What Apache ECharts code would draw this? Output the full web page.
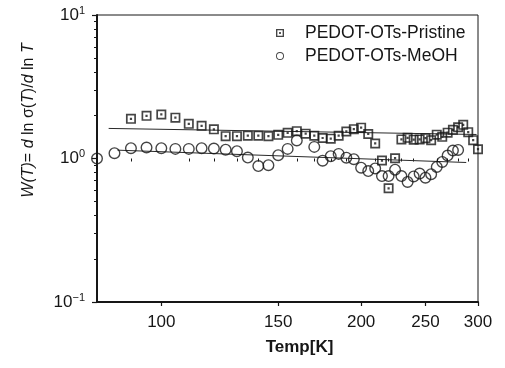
<!DOCTYPE html>
<html>
<head>
<meta charset="utf-8">
<script src="https://cdn.jsdelivr.net/npm/echarts@6/dist/echarts.min.js"></script>
<style>html,body{margin:0;padding:0;background:#fff;}#c{width:505px;height:368px;}</style>
</head>
<body>
<div id="c"></div>
<script>
// ---- data ----
const T_pristine = [90,95,100,105,110,115,120,125,130,135,140,145,150,155,160,165,170,175,180,185,190,195,200,205,210,215,220,225,230,235,240,245,250,255,260,265,270,275,280,285,290,295,300];
const W_pristine = [1.889,1.983,2.028,1.926,1.744,1.689,1.596,1.431,1.431,1.443,1.443,1.431,1.461,1.509,1.551,1.490,1.443,1.390,1.375,1.443,1.543,1.601,1.640,1.482,1.273,0.968,0.620,1.005,1.359,1.393,1.353,1.359,1.386,1.342,1.466,1.415,1.514,1.584,1.653,1.716,1.526,1.342,1.161];
const T_meoh = [80,85,90,95,100,105,110,115,120,125,130,135,140,145,150,155,160,170,175,180,185,190,195,200,205,210,215,220,225,230,235,240,245,250,255,260,265,270,275,280];
const W_meoh = [1.000,1.089,1.180,1.193,1.180,1.167,1.167,1.180,1.174,1.152,1.124,1.016,0.886,0.898,1.054,1.167,1.335,1.205,0.965,1.038,1.077,1.013,0.989,0.863,0.818,0.852,0.755,0.755,0.835,0.755,0.687,0.750,0.786,0.735,0.777,0.874,0.947,1.049,1.137,1.148];
const fitPristineT = [83.3, 298.5];
const fitPristineW = [1.62, 1.47];
const fitMeohT = [85.9, 288];
const fitMeohW = [1.143, 0.938];
const xTickLabels = [100, 150, 200, 250, 300];
const xMinorTicks = [80, 90, 110, 120, 130, 140, 160, 170, 180, 190, 210, 220, 230, 240, 260, 270, 280, 290];
const yTickLabels = [0.1, 1, 10];
const yMinorTicks = [0.2, 0.3, 0.4, 0.5, 0.6, 0.7, 0.8, 0.9, 2, 3, 4, 5, 6, 7, 8, 9];
const xRange = [80, 300];
const seriesNames = ['PEDOT-OTs-Pristine', 'PEDOT-OTs-MeOH'];

// ---- build ----
const L = Math.log10;
const pairs = (xs, ys) => xs.map((x, i) => [L(x), L(ys[i])]);
const INK = '#161616';
const FONT = '"Liberation Sans", Arial, sans-serif';
const squareDot = 'path://M0,0H10V10H0Z M1.7,1.7V8.3H8.3V1.7Z M3.9,3.9H6.1V6.1H3.9Z';
const ring = 'path://M10,0A10,10 0 1,1 10,20A10,10 0 1,1 10,0Z M10,2.3A7.7,7.7 0 1,0 10,17.7A7.7,7.7 0 1,0 10,2.3Z';
const xMin = L(xRange[0]), xMax = L(xRange[1]);
const yMin = L(yTickLabels[0]), yMax = L(yTickLabels[yTickLabels.length - 1]);

const supText = v => {
  const e = Math.round(v);
  return '{b|10}{s|' + (e < 0 ? '\u2212' + (-e) : e) + '}';
};

const chart = echarts.init(document.getElementById('c'), null, {renderer: 'canvas'});
chart.setOption({
  animation: false,
  backgroundColor: '#fff',
  textStyle: {fontFamily: FONT, color: INK},
  grid: {left: 97, right: 27, top: 15, bottom: 66, show: true, borderColor: INK, borderWidth: 1, backgroundColor: 'transparent'},
  legend: {
    data: seriesNames,
    orient: 'vertical', left: 276, top: 24, padding: 0,
    itemWidth: 40, itemHeight: 8, itemGap: 5,
    textStyle: {fontFamily: FONT, fontSize: 17.5, lineHeight: 17, color: INK},
    inactiveColor: INK, selectedMode: false
  },
  xAxis: [{
    type: 'value', min: xMin, max: xMax,
    splitLine: {show: false},
    axisLine: {show: true, onZero: false, lineStyle: {color: INK, width: 2}},
    axisTick: {show: true, length: 4, lineStyle: {color: INK, width: 1.2}, customValues: xTickLabels.map(L)},
    axisLabel: {show: true, margin: 12, fontSize: 17, color: INK, fontFamily: FONT,
      customValues: xTickLabels.map(L), formatter: v => String(Math.round(Math.pow(10, v)))},
    name: 'Temp[K]', nameLocation: 'middle', nameGap: 37,
    nameTextStyle: {fontSize: 17, fontWeight: 'bold', color: INK, fontFamily: FONT, padding: [0, 0, 0, 24]}
  }, {
    type: 'value', min: xMin, max: xMax, gridIndex: 0, position: 'bottom',
    splitLine: {show: false},
    axisLine: {show: false},
    axisTick: {show: true, length: 3, lineStyle: {color: INK, width: 1}, customValues: xMinorTicks.map(L)},
    axisLabel: {show: false}
  }],
  yAxis: [{
    type: 'value', min: yMin, max: yMax, interval: 1,
    splitLine: {show: false},
    axisLine: {show: true, onZero: false, lineStyle: {color: INK, width: 2}},
    axisTick: {show: true, length: 5, lineStyle: {color: INK, width: 1.2}},
    axisLabel: {show: true, margin: 12, formatter: supText,
      rich: {
        b: {fontSize: 17, lineHeight: 20, fontFamily: FONT, color: INK},
        s: {fontSize: 11, lineHeight: 11, verticalAlign: 'top', fontFamily: FONT, color: INK}
      }},
    name: '{i|W(T)}{n|= }{i|d}{n| ln σ(}{i|T}{n|)/}{i|d}{n| ln }{i|T}',
    nameLocation: 'middle', nameGap: 60, nameRotate: 90,
    nameTextStyle: {
      padding: [0, 0, 0, 76],
      rich: {
        i: {fontSize: 16, fontStyle: 'italic', fontFamily: FONT, color: INK},
        n: {fontSize: 16, fontFamily: FONT, color: INK}
      }
    }
  }, {
    type: 'value', min: yMin, max: yMax, gridIndex: 0, position: 'left',
    splitLine: {show: false},
    axisLine: {show: false},
    axisTick: {show: true, length: 3, lineStyle: {color: INK, width: 1}, customValues: yMinorTicks.map(L)},
    axisLabel: {show: false}
  }],
  series: [{
    name: 'fitPristine', type: 'line', data: pairs(fitPristineT, fitPristineW),
    showSymbol: false, silent: true, lineStyle: {color: '#2a2a2a', width: 1}, z: 1
  }, {
    name: 'fitMeOH', type: 'line', data: pairs(fitMeohT, fitMeohW),
    showSymbol: false, silent: true, lineStyle: {color: '#2a2a2a', width: 1}, z: 1
  }, {
    name: seriesNames[0], type: 'scatter', data: pairs(T_pristine, W_pristine),
    symbol: squareDot, symbolSize: 10, itemStyle: {color: INK}, z: 3
  }, {
    name: seriesNames[1], type: 'scatter', data: pairs(T_meoh, W_meoh),
    symbol: ring, symbolSize: 12, itemStyle: {color: INK}, z: 3
  }]
});
</script>
</body>
</html>
